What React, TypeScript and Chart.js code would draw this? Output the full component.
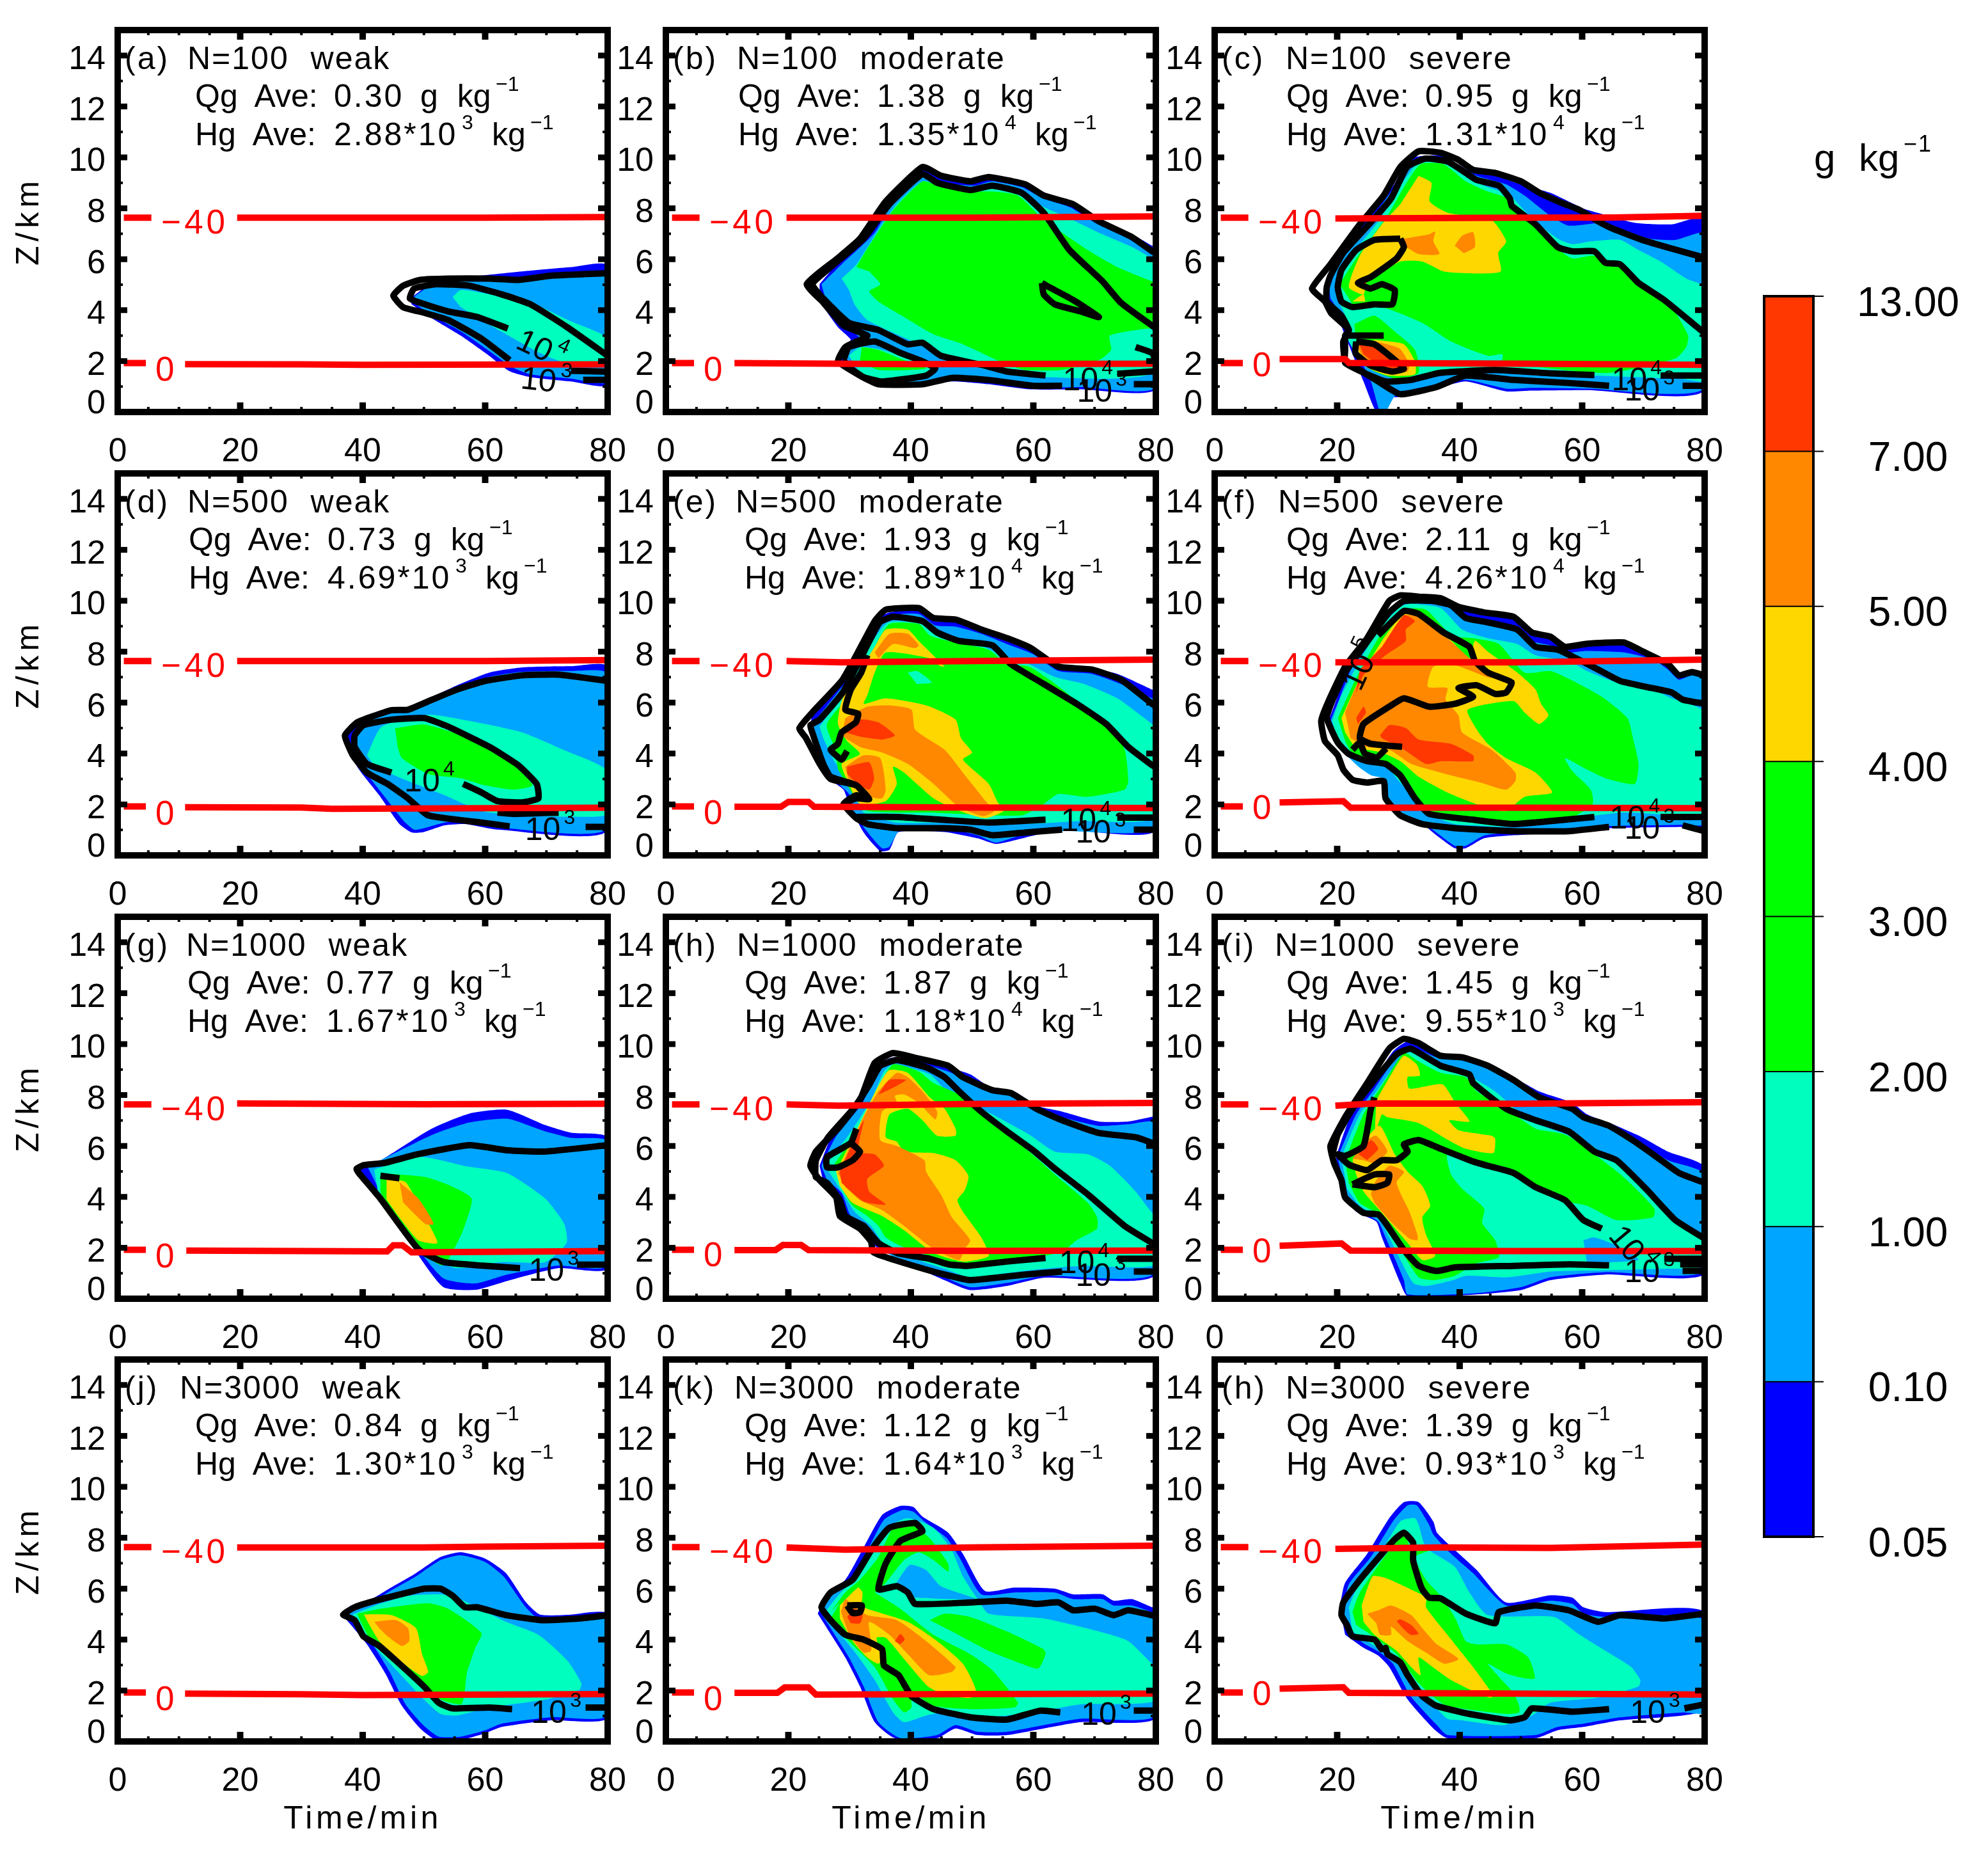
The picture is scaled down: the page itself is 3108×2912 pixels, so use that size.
import React, { useEffect, useRef } from "react";
import { Chart, registerables } from "chart.js";
Chart.register(...registerables);

const FONT = '"Liberation Sans"';
const fillColors = ["#0000FF", "#00A5FF", "#00FFBF", "#00FF00", "#FFD700", "#FF8800", "#FF3700"];
const barColors = ["#0000FF", "#00A5FF", "#00FFBF", "#00FF00", "#00FF00", "#FFD700", "#FF8800", "#FF3700"];
const barLevels = ["0.05", "0.10", "1.00", "2.00", "3.00", "4.00", "5.00", "7.00", "13.00"];
const xMajor = [0, 20, 40, 60, 80];
const xMinor = [5, 10, 15, 25, 30, 35, 45, 50, 55, 65, 70, 75];
const yMajor = [2, 4, 6, 8, 10, 12, 14];
const yMinor = [1, 3, 5, 7, 9, 11, 13];
const colLeft = [184, 1041, 1899];
const rowTop = [47, 740, 1433, 2125];

// (a)
const aBlue = [47.7,4.45,51.4,5.07,57.4,5.3,66,5.52,74,5.69,80,5.75,80,1.09,74,1.2,67.4,1.37,64,1.6,60.7,2.2,56,3,51.4,3.67,48,4.23];
const aLight = [48.6,4.57,51.4,5,57.4,5.19,66,5.3,74,5.3,80,5.35,80,1.2,74,1.31,67.4,1.48,64.4,1.76,61.4,2.27,56,3.17,51.4,3.78,48,4.35];
const aAqua = [54.7,4.51,56,4.79,60.7,4.62,67.4,4.29,74,3.56,80,2.9,80,1.9,74,1.87,69.4,2.27,64.7,2.88,59.4,3.61,56,4.12];
const aC1 = [64,2.04,59.4,2.88,54,3.61,50,3.9,46.6,4.12,45,4.57,46.6,4.96,49.4,5.19,54,5.24,60.7,5.24,65.4,5.19,70.7,5.35,80,5.45];
const aC2 = [76,1.26,80,1.26];
const aC3 = [63.7,3.28,58.7,3.73,54,3.95,49.4,4.29,47.7,4.46,48.4,4.85,52,5.02,57.4,4.96,62.7,4.62,67.4,4.23,73.4,3.33,80,2.21];
const aC4 = [74,1.62,80,1.58];
const aR40 = [19.5,7.63,60,7.63,80,7.66];
const aR0 = [11,1.88,30,1.87,40,1.85,80,1.87];

// (b)
const bBlue = [25.1,5.02,28.7,6.03,32.9,6.92,36.5,8.38,41.9,9.62,44.9,9.28,49.7,9.17,53.3,9.23,58.7,8.94,61.7,8.5,66.5,8.16,70.7,7.49,76.1,6.98,79.4,6.53,80,6.45,80,.92,67.7,.89,59.3,.89,52.7,1.09,46.7,1.2,42.5,1.03,34.7,.98,32.3,1.26,30.2,1.65,28.4,2.04,29,2.55,30.2,2.83,28.1,3.33,25.1,4.34];
const bLight = [25.4,5.02,28.7,5.8,34.1,7.04,37.1,8.27,41.9,9.28,45.5,9,50.3,8.89,53.3,9.06,58.1,8.83,61.7,8.38,65.9,8.05,70.1,7.43,75.5,6.81,79.4,6.25,80,6.2,80,.98,67.7,.98,59.3,.95,52.7,1.18,46.7,1.31,42.5,1.14,34.7,1.03,32.3,1.37,29.3,2.04,29.9,2.6,31.7,2.88,29.3,3.39,26.3,4.23];
const bAqua = [28.7,5.24,31.1,5.8,34.7,7.15,37.7,8.16,41.9,9.06,45.5,8.89,50.3,8.72,53.3,8.89,57.5,8.72,61.7,8.05,65.9,7.6,70.7,7.04,76.1,6.48,79.4,6.03,80,5.95,80,1.6,61.7,1.37,52.7,1.65,46.7,2.1,42.5,2.55,37.7,3.05,32.9,3.61,30.8,4.23,29.9,4.79];
const bAqua2 = [29.9,2.21,31.7,2.55,35.3,2.44,40.7,2.04,43.7,1.76,41.9,1.43,34.7,1.26,31.7,1.54];
const bGreen = [31.1,5.69,32.9,6.42,37.1,7.93,41.9,9.06,44.3,8.89,49.7,8.66,53.3,8.66,57.5,8.5,61.7,7.54,64.7,7.04,68.9,6.36,73.7,5.69,79.4,5.13,80,5.1,80,3.3,78.5,3.28,72.5,3,72.7,2.44,70.7,2.04,64.7,1.65,58.7,1.65,55.1,1.93,48.5,2.66,43.7,3.05,38.9,3.73,34.7,4.34,33.2,4.74,35,5.02,33.2,5.52];
const bGreen2 = [32,2.55,34.7,2.44,38.9,2.04,42.5,1.71,34.7,1.65,31.7,2.04];
const bC1 = [64.7,1.03,59.9,1.03,52.7,1.26,46.7,1.34,41.9,1.09,34.7,1.09,31.7,1.43,28.1,1.99,29.3,2.55,31.7,2.83,32.9,3,29,3.4,25.7,4.3,23,5.02,28,6.03,31.7,6.81,35.9,8.27,41.9,9.62,44.9,9.28,49.7,9.06,52.7,9.23,58.7,8.94,61.7,8.5,66.5,8.16,70.7,7.49,76.1,6.87,79.4,6.31,80,6.25];
const bC2 = [76.4,1.09,80,1.09];
const bC3 = [62,1.43,55.7,1.59,52.1,1.82,44.9,2.21,41.9,2.72,39.5,2.66,34.7,3.22,29.9,3.5,25.7,4.46,23.9,5.02,26.9,5.69,32.3,6.81,36.5,8.16,41.9,9.34,44.3,9,49.7,8.72,53.3,8.89,58.1,8.61,61.7,7.82,65.9,6.36,71.3,5.13,74.3,4.29,79.4,3.39,80,3.3];
const bC4 = [29,2.04,29.9,2.55,34.1,2.77,38.3,2.32,41.9,1.99,44,1.71,42.5,1.43,35.3,1.2,32.3,1.37,29.9,1.76,29,2.04];
const bC5 = [61.4,5.07,62.6,4.9,66.5,4.4,70.7,3.73,67.7,3.95,63.5,4.23,61.7,4.62,61.4,5.07];
const bC6 = [76.7,2.55,79.4,2.32,80,2];
const bC7 = [73.7,1.5,80,1.6];
const bR40 = [19.7,7.63,50,7.63,80,7.68];
const bR0 = [11.2,1.92,40,1.88,80,1.9];

// (c)
const cBlue = [18,5.02,20.5,6.14,25,7.6,29,8.83,32,9.95,36.9,10.07,39.8,9.73,42.2,9.39,45.8,9.28,50,8.94,54.8,8.61,60.2,7.99,62.6,7.82,68.6,7.43,74.6,7.37,80,7.6,80,.86,60.8,.86,51.8,.84,47.6,.81,41,1.2,36.2,.92,29.7,.58,28.5,.58,27.9,0,26.4,0,24.3,1.2,21.3,3,20,3.78,18.6,4.46];
const cLight = [18.6,5.02,21,6.14,25.6,7.6,29.7,8.94,32.6,9.9,36.9,9.95,39.8,9.67,42.8,9.28,47.6,8.94,50.6,8.5,54.8,7.71,57.8,7.32,63.5,7.43,66.8,7.15,71,6.81,75.2,6.76,80,7,80,.95,60.8,.92,51.8,.95,47.6,.92,41,1.26,36.2,1.03,29.7,.7,27.9,0,27,0,25.5,1.2,21.9,3,20.7,3.78,18.9,4.46];
const cAqua = [20,4.9,22,6.03,26.7,7.48,30.5,8.94,33.3,9.79,37.4,9.84,40.4,9.34,44,8.89,48.2,8.5,51.8,7.6,56,6.81,58.4,6.59,61.4,6.7,66.2,6.76,69.2,6.36,72.8,5.91,77,5.24,80,4.9,80,1.25,76.4,1.3,62,1.43,45.8,1.6,36.8,1.6,30.9,1.26,24.9,1.76,21.9,2.77,21.3,3.78,20,4.46];
const cGreen = [20.4,5.02,23.1,6.03,28.5,7.82,30.9,8.83,33.6,9.73,37.4,9.73,41,9.06,44.6,8.66,47.9,8.38,51.8,7.43,56,6.42,58.4,6.03,62,6.14,66.8,5.63,70.4,4.9,74.6,4.12,77.3,3,77,2.55,75.2,2.1,64.4,1.54,54.8,1.71,47,1.99,47,2.27,44.6,2.21,38.6,2.77,33.9,3.5,27.3,4.12,23,4.1,21.9,4.46];
const cGreen2 = [22.8,3.45,26.1,3.78,29.1,3.22,32.7,2.44,33.3,1.54,29.7,1.31,24.9,1.76,23.1,2.77];
const cGold = [33.3,9.28,35.4,9,35.1,8.27,38.1,7.82,45.2,7.54,47.6,6.7,46.3,6.25,46.7,5.52,42.8,5.44,37.4,5.52,33.9,5.91,30.3,5.91,27.3,5.47,24.9,5.13,24.3,4.62,21.9,4.9,23.7,6.14,27.3,7.37,30.3,8.16];
const cGold2 = [22.5,4.34,24.3,4.62,24.6,4.34];
const cGold3 = [26.1,2.83,30.9,2.66,32.7,1.99,32.7,1.48,28.5,1.43,24.9,1.76,23,2.55];
const cOrange = [30.9,6.81,35,6.98,36,7.09,35.7,6.7,36.7,6.2,33.3,6.2,30.9,6.53];
const cOrange2 = [39.2,6.53,40.4,6.92,42.2,7.06,42.5,6.48,40.7,6.23];
const cOrange3 = [26.1,2.78,30.2,2.49,31.8,1.87,31.5,1.59,28.5,1.54,24.9,1.93,23.1,2.66];
const cRed = [23.4,2.77,25.5,2.77,30.3,1.99,30,1.71,27.3,1.76,24.3,2.27];
const cC1 = [64.4,1.03,57.8,1.14,48.8,1.26,41,1.43,36.2,.98,30.3,.7,26.7,1.2,23.7,1.65,21.3,2.04,21,2.77,21.9,3.22,19,3.89,18,4.34,15.9,4.85,18.9,5.8,23.7,7.37,27.6,8.5,30.3,9.62,33.3,10.24,36.9,10.18,39.8,9.9,42.2,9.51,45.8,9.39,50,9.06,53,8.61,56.6,8.22,59.6,7.93,62.6,7.49,65,7.2,69.8,6.76,74.6,6.42,78.8,6.14,80,6.05];
const cC2 = [76.4,1.03,80,1.03];
const cC3 = [62,1.45,54.8,1.52,45.8,1.65,36.8,1.54,32,1.26,27.9,1.2,24.9,1.48,21.3,1.93,21.3,2.44,21.3,3,21.9,3.22,20.7,3.78,18.3,4.34,18.3,4.9,18.9,5.35,21,6.25,25.2,7.37,28.8,8.38,31.4,9.62,34.4,9.95,38,9.84,41,9.39,42.8,9.11,46.4,8.89,48.2,8.38,48.5,8.1,52.4,7.37,56,6.48,58.4,6.31,62,6.31,63.8,5.86,66.2,5.8,69.2,5.07,73.4,4.4,78.8,3.33,80,3.1];
const cC4 = [21.3,3,27.6,3];
const cC5 = [72.8,1.43,80,1.43];
const cC6 = [30.3,6.81,26.1,6.76,23.1,6.36,20.7,5.58,20.1,4.9,20.7,4.34,22.5,4.12,26,4.23,29,4.23,29.4,4.79,27.3,5.02,25.4,4.85,23.4,5.07,25.5,5.3,29.7,6.03,30.9,6.48,30.3,6.81];
const cC7 = [23.1,2.77,26.1,2.66,30.9,1.71,29,1.59,25.5,1.82,23,2.3,23.1,2.77];
const cR40 = [19.7,7.6,50,7.63,65,7.64,80,7.71];
const cR0a = [10.6,2.08,21.3,2.08,21.9,1.93,50,1.9,80,1.85];

// (d)
const dBlue = [37.1,4.71,39.4,5.22,44.7,5.72,47.4,5.78,51.4,6.23,55.4,6.68,60.7,7.18,66,7.38,74,7.43,80,7.41,80,.98,62,1.01,56.7,1.23,53.4,1.18,50,.92,48,.9,46,1.23,42.7,2.36,39.4,3.37,37.4,4.26];
const dLight = [38.1,4.43,39.4,5.11,44.7,5.61,47.4,5.63,51.4,6.12,55.4,6.57,60.7,7.01,66,7.21,74,7.24,80,7.13,80,1.07,62,1.1,56.7,1.35,53.4,1.29,50,1.07,48.4,1.01,46.7,1.35,43.4,2.36,40.1,3.37,38.4,3.93];
const dAqua = [40.7,3.93,43.1,5.05,50.7,5.52,57.4,5.28,66,4.83,72.7,4.15,80,3.31,80,1.63,74,1.52,66,1.57,59.4,1.74,53.4,2.36,47.4,2.92,42,3.48];
const dGreen = [45.3,4.99,50.1,5.14,56.1,4.71,62,4.04,65.4,3.37,67.7,2.75,64.7,2.58,60,2.75,56,3.03,50.7,3.2,46.4,3.82,45.7,4.26];
const dC1 = [64,1.14,59.4,1.29,50.7,1.57,47.4,2.24,44.1,2.8,40.7,3.25,38.4,3.93,37.1,4.71,39.1,5.22,42.1,5.5,44.7,5.7,47.4,5.72,51.4,6.12,55.4,6.51,60,6.85,66,7.07,72,7.1,80,6.85];
const dC2 = [76.4,1.12,80,1.12];
const dC3 = [44.7,3.25,40.7,3.59,38.7,4.26,38.7,4.71,40.1,5.11,44.7,5.33,50.1,5.39,54,5.05,60.7,4.26,65.4,3.54,68.4,2.81,68.7,2.24,66,2.08,62,2.13,59.4,2.47,56.4,2.81];
const dC4 = [62,1.68,64.7,1.63,72,1.68];
const dR40 = [19.5,7.63,60,7.63,80,7.67];
const dR0 = [11,1.89,30,1.88,35,1.83,80,1.87];

// (e)
const eBlue = [23.6,4.99,24,5.61,28.7,6.96,31.1,7.86,34,9.2,36.5,9.54,41.3,9.6,43.7,9.2,47.3,9.15,51.5,8.81,55.7,8.47,59.6,8.14,64.1,7.5,69.5,7.35,73.7,7.13,79.4,6.51,80,6.45,80,.98,64.7,1.01,58.7,.7,53.9,.45,50.9,.67,45.5,.92,38,.92,36.5,.22,35,.17,32.3,.9,29.9,2.02,29,2.58,26.9,2.97,25.1,3.7];
const eLight = [23.9,5.16,29.5,6.85,32,7.86,34.6,9.15,36.5,9.43,41.3,9.48,44,9.03,47.3,8.98,51.5,8.7,55.7,8.3,59.9,7.91,64.1,7.24,69.5,7.13,74.3,6.73,79.4,6.17,80,6.1,80,1.1,64.7,.95,58.7,.84,53.9,.5,50.9,.79,45.5,1.07,38.3,1.01,36.5,.34,35.3,.28,32.6,1.01,30.5,1.8,29.9,2.41,27.5,2.97,25.7,3.7];
const eAqua = [25.1,5.05,30.5,6.85,33.5,8.3,36.3,9.15,41.9,9.09,45.5,8.53,49.7,8.42,54.5,7.91,58.7,7.58,63.5,7.01,68.3,6.73,73.7,6.17,79.4,5.16,80,5.05,80,1.5,67.7,1.35,58.7,1.23,43.7,1.29,37.7,1.29,32.3,1.68,31.1,2.36,29.3,3.14,27.5,3.7,25.7,4.6];
const eGreen = [27.5,4.26,26.3,5.16,31.1,6.62,34.1,8.19,36.5,9.09,41.3,9.09,43.1,8.64,47.3,8.36,52.7,8.08,55.7,7.52,59.3,7.41,62.9,6.85,67.7,5.95,72.5,5.05,74.9,4.15,75.5,2.92,74.9,2.58,68.9,2.3,64.1,2.41,61.7,2.02,58.1,1.57,43.7,1.68,33,1.74,31.1,2.19,28.1,3.37];
const eSpot = [39.5,7.18,41,7.24,43.4,6.79,41,6.73];
const eGold = [34.1,8.19,35.9,8.87,39.5,8.87,41.3,8.42,45.5,7.41,44.6,7.46,43.1,7.74,35.9,7.97,34.1,7.18,32.9,6.29,32.3,5.95,35.9,6.17,42.5,5.89,47.3,5.33,48.2,4.6,50,4.04,48.5,3.76,52.7,2.81,54.2,2.08,55.1,1.74,52.1,1.46,47.3,1.8,43.7,2.24,38.9,3.25,37.1,3.48,37.7,2.81,35.9,2.13,31.7,2.02,29.9,2.81,28.7,3.59,31.7,3.98,29.6,4.49,28.1,5.16,28.7,6.06,30.5,6.85];
const eOrange = [34.1,7.97,36.5,8.7,39.5,8.7,41.3,8.25,40.7,8.14,37.1,8.3,34.7,7.74];
const eOrange2 = [29.3,5.39,32.9,5.84,36.5,5.89,40.1,5.72,40.7,4.94,45.5,4.15,48.5,3.25,52.4,2.08,53.6,1.74,51.8,1.54,47.8,1.91,43.7,2.81,39.5,3.59,35.3,4.04,31.7,4.26,28.7,4.71];
const eOrange3 = [29.3,3.48,32.3,3.93,35,3.82,35.9,2.58,35.3,2.24,33.5,2.3,29.9,2.92];
const eRed = [29.3,4.83,31.7,5.33,34.7,5.22,37.4,4.71,35.3,4.55,31.7,4.66];
const eRed2 = [29.6,3.48,33.2,3.65,34,3.03,33.2,2.58,31.1,2.86,29.6,3.2];
const eC1 = [64.7,1.01,58.7,.9,53.3,.79,49.7,1.01,45.5,1.07,37.7,1.07,32.9,1.23,31.1,1.46,29,2.02,31.1,2.36,32.9,2.24,31.1,2.75,26.9,3,25.1,3.6,22.9,4.6,21.8,4.99,23.9,5.61,28.7,6.85,31.1,7.86,34.1,9.2,35.9,9.65,41.3,9.71,43.7,9.32,47.3,9.26,51.5,8.87,55.7,8.53,59.6,8.14,64.1,7.41,69.5,7.3,74.3,6.9,79.4,5.95,80,5.85];
const eC2 = [62,1.4,52.7,1.29,44.9,1.4,37.7,1.51,31.1,1.51];
const eC3 = [29,2.02,31.1,2.24,33.2,2.21,31.1,2.75,26.9,3.09,25.7,3.59,23.9,4.83,23.6,5.11,25.1,5.33,28.9,6.4,31.8,7.74,34.9,9.15,37.1,9.37,41.9,9.2,44.3,8.75,47.9,8.42,53.3,8.25,56.3,7.52,61.7,6.73,67.1,5.95,71.9,5.16,75.5,4.26,79.4,3.54,80,3.45];
const eC4 = [32.9,7.86,31.9,7.18,30.2,6.51,29.3,5.72,31.4,5.56,31,5.22,28.7,4.83,28.1,4.38,26.9,4.15,28.7,3.76,29.6,4.1];
const eC5 = [73.7,1.48,80,1.48];
const eC6 = [76.4,1.01,80,1.01];
const eR40 = [19.7,7.63,28.7,7.58,50,7.63,80,7.69];
const eR0 = [11.2,1.91,18.8,1.91,20,2.1,23.3,2.1,24.2,1.91,50,1.88,80,1.86];

// (f)
const fBlue = [18.6,5.28,19.8,6.06,21.9,7.41,25.5,8.53,29.1,9.76,31.5,9.99,36.9,9.99,39.8,9.65,44,9.48,48.8,9.29,51.8,8.7,54.8,8.53,57.2,8.14,60.8,8.25,66.8,8.25,69.8,7.97,74,7.46,75.8,7.01,77.9,7.13,80,7.07,80,1.15,76.4,1.12,64.4,1.07,57.8,.9,48.8,.79,44,.67,41,.28,39.2,.28,36.2,.79,33.9,1.23,30.3,1.57,27.9,2.24,27.6,3.14,25.2,3.25,23.1,3.59,21.3,4.04,19.5,4.6];
const fLight = [18.9,5.28,20.4,6.17,22.5,7.41,26.1,8.53,29.7,9.71,32.1,9.93,38.7,9.76,40.4,9.32,44.6,9.15,48.8,9.03,51.8,8.42,54.8,8.25,57.2,7.97,60.8,8.03,66.8,7.97,71.6,7.69,74,7.3,75.8,6.9,77.9,7.07,80,7,80,1.25,76.4,1.2,64.4,1.15,57.8,1,48.8,.9,44,.78,41,.38,39.2,.38,36.2,.9,33.9,1.3,30.3,1.65,28,2.3,27.8,3,25.5,3.15,23.4,3.5,21.5,3.95,19.8,4.5];
const fAqua = [19.2,5.28,20.7,6.29,26.1,8.64,30.3,9.76,32.1,9.88,36.9,9.71,40.4,8.87,44.6,8.53,49.4,8.3,52.4,7.86,57.8,7.63,60.8,7.24,65.6,6.79,70.4,6.62,74.6,6.17,80,5.61,80,1.46,75.2,1.57,66.2,1.68,48.8,1.12,42.2,1.18,39.2,1.23,34.4,1.68,32.1,2.36,29.7,3.03,27.9,3.54,22.5,3.82,20,4.49];
const fGreen = [20.1,5.39,23.1,6.96,27.3,8.75,30.9,9.65,34.5,9.65,38.7,8.64,42.2,8.53,46.4,8.3,50.6,7.18,54.8,7.24,59,6.79,63.2,6.23,67.4,5.39,68.3,4.6,69.2,3.59,68.6,2.81,63.8,3.03,60.8,3.37,57.2,3.82,58.4,3.31,61.4,2.58,61.7,2.02,57.2,1.35,48.8,1.29,39.2,1.4,34.4,1.85,30.3,3.14,27.9,3.59,23,3.82,21.3,4.49];
const fGold = [20.7,5.39,23.7,6.96,27.3,8.42,30.9,9.54,32.6,9.54,36.9,8.87,41.6,7.74,42.5,8.42,44.6,8,49.4,7.18,52.4,6.51,53.3,5.95,54.5,5.5,53,5.16,50.6,5.61,48.8,6.06,41.3,5.72,42.8,4.94,44.6,4.38,47.6,3.82,52.4,3.25,55.1,2.47,50.6,2.3,47.6,1.74,44.6,1.85,38,2.47,33.3,3.09,30.3,3.7,27.3,4.04,23,4.26,21.3,4.83];
const fOrange = [21.3,5.61,23.1,6.62,27.9,8.3,30.9,9.43,33.3,9.37,38,8.53,41.6,7.74,45.2,6.96,38.6,7.52,35.7,7.41,34.8,6.62,38,6.57,37.7,6.12,39.8,5.5,40.4,4.83,45.2,4.15,49.1,3.25,49.1,2.92,47.6,2.58,43.4,2.86,38.6,3.14,32.1,3.59,28.5,4.15,24.9,4.26,22.2,4.6];
const fRed = [27.3,8.19,30.9,9.43,32.7,9.2,31.2,8.87,31.2,8.42,27.9,7.86,24.3,7.07,23.1,6.4,23.7,7.3];
const fRed2 = [23.1,5.39,24.3,5.84,24.7,5.61,23.4,5.16];
const fRed3 = [27,4.71,28.5,5.11,31.2,5,33.3,4.55,38.6,4.38,42.2,3.93,42.2,3.7,37,3.7,34.5,3.59,30.9,4.15,27.3,4.6];
const fC1 = [64.4,1.12,57.8,.95,48.8,.95,39.2,1.07,33.9,1.23,30.3,1.57,27.9,2.24,27.6,2.92,24.9,2.86,22.5,2.97,21,3.37,20.1,3.93,18,4.49,17.4,5.28,18.6,6.06,21.3,7.41,24.9,8.53,28.5,9.99,30.3,10.21,33.3,10.16,36.9,10.1,39.8,9.76,44,9.54,48.8,9.37,51.8,8.75,54.8,8.59,57.2,8.19,60.8,8.31,66.8,8.36,69.8,8.02,74,7.52,75.8,7.07,77.9,7.2,80,7.07];
const fC2 = [80,5.95,76.4,6.12,74.6,6.4,70.4,6.62,66.2,6.85,62.6,7.3,59,7.74,56,8.08,52.4,8.19,49.4,8.87,44.6,9.15,41,9.32,38.6,9.82,35.7,9.99,30.9,9.99,28.5,9.54,24.3,8.19,21.3,7.18,19,5.95,18.3,5.39,20.1,4.43,21.9,3.98,24.9,3.7,27.9,3.59,30.3,3.14,32.7,2.24,35,1.63,42.2,1.4,48.8,1.23,57.2,1.4,62,1.51];
const fC3 = [26.7,8.64,30.9,9.6,33.3,9.48,37.4,8.75,41.6,8.19,42.5,7.63,44.6,7.18,48.5,6.79,47.6,6.4,45.8,6.34,42.8,6.68,39.8,6.57,42.2,6.23,39.2,5.95,35,5.84,30.9,6.17,28.5,5.84,24.3,5.16,23.7,4.6,25.5,4.38,30.6,4.26];
const fC4 = [22.5,4.15,23.7,4.43,24.5,4,26.5,3.85,28,4.2];
const fC5 = [76.4,1.18,80,.95];
const fC6 = [72.8,1.51,80,1.51];
const fR40 = [19.7,7.58,50,7.58,80,7.69];
const fR0 = [10.6,2.08,21,2.13,22.2,1.87,50,1.87,80,1.85];

// (g)
const gBlue = [39.2,5.08,42.9,5.43,51.2,6.67,57.4,7.27,63.6,7.42,69.8,6.82,74,6.52,80,6.32,80,1.2,71.9,1.2,63.6,.7,58.4,.35,53.2,.45,49.1,1.7,42.9,3.93,39.8,4.93];
const gLight = [40.8,5.18,51.2,6.42,57.4,6.92,63.6,7.07,69.8,6.57,74,6.32,80,6.17,80,1.3,71.9,1.3,63.6,.95,58.4,.6,53.2,.8,49.1,1.94,42.9,4.18];
const gAqua = [41.9,5.08,49.1,5.58,57.4,5.18,63.6,4.93,69.8,3.93,72.9,2.94,73.3,2.19,69.8,1.44,62.6,1.44,55.3,1.2,51.2,1.69,46,2.94,42.5,4.18];
const gGreen = [42.9,4.93,50.2,4.78,54.4,4.43,57.8,3.93,56.4,2.69,54.9,1.94,53.2,1.3,50.2,1.69,46,2.94,42.9,4.18];
const gGold = [43.9,4.68,47,4.58,50.2,3.19,52.2,2.19,49.1,2.29,46,3.19,43.9,3.9];
const gOrange = [46,4.58,49.1,3.93,51.6,2.94,50.2,2.94,46.6,3.78];
const gC1 = [65.7,1.2,59.5,1.3,53.2,1.44,49.1,1.94,42.9,3.93,39.4,4.93,39,5.1,40.2,5.25,43.5,5.33,49.1,5.68,57.4,6.03,63.6,5.83,69.8,5.78,80,6.03];
const gC2 = [75,1.34,80,1.34];
const gC3 = [42.9,4.83,46,4.73];
const gR40 = [19.5,7.67,50,7.64,80,7.66];
const gR0 = [11.2,1.89,44,1.86,45,2.1,46.5,2.1,48,1.82,80,1.87];

// (h)
const hBlue = [25.1,5.22,27,6.34,31.5,7.69,34.2,9.15,37.1,9.48,41.3,9.37,46.1,9.09,49.7,8.81,53.3,8.25,56.9,8.14,60.5,7.58,64.7,7.35,70.7,6.96,75.5,6.96,79.4,7.15,80,7.15,80,.95,61.7,.82,55.7,.5,49.7,.34,45.5,.73,41.9,1.12,34.1,2.08,32.3,2.86,29.9,3.14,28.4,4.1,25.7,4.6];
const hLight = [25.4,5.22,27.7,6.34,32.1,7.69,34.8,9.03,37.1,9.37,41.3,9.26,46.1,8.92,49.7,8.53,53.3,8.14,56.9,8.02,60.5,7.46,64.7,7.13,70.7,6.79,75.5,6.85,80,6.9,80,1.03,61.7,.9,55.7,.62,49.7,.45,45.5,.84,41.9,1.23,37.7,1.57,34.7,2.08,32.9,2.86,30.2,3.25,28.7,4.15,26.3,4.66];
const hAqua = [26,5.22,29.9,6.45,33.5,7.8,35.6,8.92,37.1,9.2,43.1,8.81,45.5,8.25,49.7,7.69,53.3,7.24,59.3,6.45,63.5,5.78,68.9,5.67,72.5,5.22,76.7,4.21,79.4,3.37,80,3.3,80,1.35,67.7,1.29,61.7,1.18,55.7,1.01,49.7,.84,45.5,1.18,41.9,1.46,37.7,1.8,35.3,2.24,33.5,2.86,30.8,3.42,29.3,3.98,27.5,4.66];
const hGreen = [27.5,5.27,31.1,6.57,34.1,8.02,37.1,9.2,41.3,8.92,43.7,8.47,47.9,8.02,52.1,7.13,59.3,5.78,63.5,4.88,68.9,3.76,70.4,3.2,70.4,2.75,67.1,2.3,64.7,1.85,55.7,1.4,48.5,1.18,43.1,1.68,38.3,2.08,35.9,2.41,34.7,2.86,32.9,3.25,30.5,3.65,28.7,4.32];
const hGold = [27.8,4.99,31.7,6.9,34.7,8.36,36.5,8.98,39.5,8.87,43.1,7.91,45.5,7.46,47.3,6.68,47.3,6.4,44.3,6.4,41.9,7.01,39.5,7.46,36.5,7.24,35.9,6.34,37.7,6.17,38.9,5.78,43.7,5.72,47.3,5.44,49.4,4.83,48.8,4.26,47.6,3.87,48.5,3.42,51.5,2.41,52.7,1.68,48.5,1.46,43.7,1.8,38.9,2.69,35.3,3.25,30.5,3.76,28.4,4.43];
const hOrange = [28.1,4.94,32.3,7.13,34.7,8.14,37.7,8.87,39.5,8.7,41.9,8.14,44.3,7.35,44,7.04,41.3,7.69,38.9,8.02,37.4,7.97,37.7,7.69,35.3,7.35,35,6.23,37.7,6,42.2,5.44,42.5,4.99,44.9,4.1,46.7,3.2,49.7,2.3,48.8,1.96,47.9,1.52,43.7,1.96,38.9,2.86,35.3,3.48,31.7,3.87,29.3,4.38];
const hRed = [34.7,8.02,36.5,8.59,39.2,8.59,37.7,8.36,35.3,8.08];
const hRed2 = [28.4,4.99,32.3,7.01,31.4,5.78,34.1,5.67,35.6,5.22,32.9,4.71,33.2,4.21,35.9,3.7,32.3,3.82,28.7,4.55];
const hC1 = [64.7,1.07,58.7,.95,49.7,.73,45.5,.95,41.3,1.23,35.3,1.68,33.8,1.85,33.5,2.24,31.7,2.75,28.4,3.25,27.8,3.98,25.1,4.66,23.6,5.22,24.5,5.78,28.1,6.68,31.7,7.8,34.1,9.26,37.1,9.65,41.3,9.43,46.1,9.15,48.5,8.7,53.3,8.19,56.3,8.08,60.5,7.46,64.7,7.01,70.7,6.51,76.7,6.34,79.4,6.12,80,6.05];
const hC2 = [62,1.6,55.7,1.46,49.1,1.29,46.1,1.35,43.1,1.57,37.7,1.8,34.7,2.19,32.3,2.86,29.3,3.25,28.4,3.87,26.3,4.55,24.5,4.77,24.5,5.44,26.5,6.34,30.6,7.46,33.1,8.36,35,9.15,37.7,9.37,42.5,9.09,45.5,8.7,47.9,8.14,51.5,7.35,55.7,6.57,59.9,5.84,63.5,5.11,68.9,4.1,74.9,2.86,79.4,2.19,80,2.1];
const hC3 = [31.1,6.68,30.2,6.12,26.3,5.56,26.3,5.16,28.1,5.16,30.5,5.44,31.7,5.78,30.2,6.12];
const hC4 = [73.7,1.57,80,1.57];
const hC5 = [76.4,1.07,80,1.07];
const hR40 = [19.7,7.63,28.1,7.58,50,7.65,80,7.69];
const hR0 = [11.2,1.91,17.9,1.91,19.1,2.11,22.1,2.11,23.3,1.91,50,1.88,80,1.89];

// (i)
const iBlue = [19.8,5.56,21.9,7.01,25.5,8.36,29.1,9.71,31.5,10.1,35.7,9.82,36.9,9.6,40.4,9.48,44.6,9.2,48.8,8.7,53,8.14,58.4,7.69,60.8,7.24,65,6.85,69.8,6.34,74,5.78,80,5.16,80,.98,63.8,.95,54.8,.73,50,.34,42.8,.17,31.5,.11,30.3,.62,27.3,2.41,26.4,3.03,23.1,3.42,21.3,4.1,20.4,4.88];
const iLight = [20.1,5.56,23.1,7.24,26.1,8.25,30.3,9.71,31.8,9.93,36.2,9.48,40.4,9.37,44.6,9.03,48.8,8.47,53,7.8,58.4,7.35,60.8,7.01,65,6.62,69.8,6.06,74,5.44,80,4.88,80,1.08,63.8,1.04,54.8,.84,50,.45,42.8,.22,31.5,.17,30.9,.73,27.9,2.41,26.7,3.03,23.7,3.48,21.6,4.1,20.7,4.88];
const iAqua = [20.7,5.56,23.7,7.24,26.7,8.25,30.9,9.6,33.3,9.71,36.9,9.15,41,8.81,45.8,8.14,51.2,7.01,56,6.57,60.8,6.12,66.2,5.22,70.4,4.21,75.2,3.09,80,2.41,80,1.29,73.7,1.18,63.8,1.12,54.8,1.07,47.6,.84,41,.9,38.9,.73,34.5,.5,32.4,.62,28.5,2.41,26.7,3.2,23.7,3.65,21.6,4.32];
const iPatch = [60.2,2.3,62,2.41,66.8,1.96,69.2,1.52,60.8,1.4];
const iGreen = [21.3,5.44,24.3,7.24,27.9,8.59,30.9,9.65,33.3,9.32,36.9,8.87,41,8.7,42.8,8.14,47.6,7.46,52.4,6.68,57.2,6.45,62,5.67,66.8,4.77,71.8,3.54,71.6,3.2,65.6,3.09,60.8,3.65,56.6,3.87,51.8,4.55,47.6,5.16,42.8,5.39,38,5.67,38.6,4.88,40.4,4.32,44,3.54,43.7,2.97,45.8,2.3,46.4,1.63,42.8,1.4,39.2,.9,35.7,.73,33.3,.84,29.7,2.19,26.7,3.31,23.7,3.76,21.9,4.55];
const iGold = [26.4,7.8,29.1,8.92,30.9,9.54,33,9.2,33.5,8.76,31.5,8.7,31.8,8.25,37.2,8.42,39.3,7.69,41.6,6.96,38.3,7.01,39.8,6.62,45.2,6.4,45.8,6.29,45.5,5.72,41,5.89,38.6,6.17,33.3,6.9,28.2,7.13,27.3,7.24,26.1,6.34];
const iGold2 = [22.5,5.44,24.9,6.34,27,6.79,29.4,5.67,31.5,4.99,33.9,4.43,35.2,3.65,33.9,3.2,34.5,2.52,36,1.68,33.9,1.52,31.5,2.19,26.7,3.54,24.3,4.21,23.1,4.88];
const iOrange = [25.5,4.1,26.1,4.55,28.5,5.22,30.9,4.99,29.7,4.55,31.8,3.42,33.1,2.52,33.1,2.3,31.8,2.36,28.5,3.09,26.1,3.76];
const iOrange2 = [22.5,5.5,24.9,6.23,26.4,6.4,28.2,5.78,26.1,5.33,24.3,5.44];
const iRed = [23.5,5.67,25.5,6.23,26.7,5.89,24.9,5.44];
const iC1 = [64.4,1.31,57.8,1.35,48.8,1.29,39.2,1.23,36.2,1.09,33.3,1.29,30.9,1.91,27.9,2.97,26.7,3.31,24.3,3.37,21.3,3.98,20.7,4.66,19.5,5.33,18.9,6,21.3,7.13,24.9,8.47,28.5,9.82,30.9,10.21,33.3,10.04,36.9,9.54,40.4,9.48,44.6,9.15,48.8,8.59,53,7.91,58.4,7.46,60.2,7.13,64.4,6.79,68.6,6.17,72.2,5.56,75.8,4.94,80,4.55];
const iC2 = [80,2.36,75.2,3.09,70.4,4.32,65.6,5.44,62,5.78,57.8,6.57,52.4,7.01,47.6,7.46,42.2,8.47,41.6,8.81,36.9,9.15,32,9.82,29.7,9.6,26.1,8.59,22.5,7.46,20.1,6.45,19.2,5.67];
const iC3 = [63.2,2.75,60.2,3.09,57.2,3.87,52.4,4.38,48.8,4.94,44.6,5.22,42.2,5.39,36.9,5.89,33.3,6.23,30.9,6.06,31.5,5.78,29.7,5.44,27.3,5.44,24.9,5.05,21.9,5.27,20.1,5.67,21.3,5.61,24.3,6,25.5,7.46,26.1,7.91];
const iC4 = [22.5,4.49,26.1,4.88,28.5,4.88,28.2,4.55,26.1,4.38,22.5,4.49];
const iC5 = [73.4,1.57,80,1.57];
const iC6 = [76,1.35,80,1.35];
const iC7 = [76.4,1.09,80,1.09];
const iR40 = [19.7,7.58,26,7.67,50,7.66,80,7.72];
const iR0 = [10.6,2.08,20.7,2.17,22.2,1.89,50,1.87,80,1.87];

// (j)
const jBlue = [36.6,4.98,38.1,5.34,40.7,5.49,44.1,5.97,48.7,6.61,52.7,7.24,56,7.43,60,7.18,63.4,6.61,66.7,5.46,69,4.98,74,4.98,77.4,5.08,80,5.02,80,.93,70.7,.83,62.7,.57,60,.32,56,.06,52,.06,49.4,.51,46.4,1.4,43.7,2.67,40.7,3.81,38.1,4.57];
const jLight = [37.6,4.98,38.7,5.27,40.7,5.36,44.1,5.85,48.7,6.48,52.7,7.12,56,7.31,60,7.05,63,6.48,66.4,5.34,68.7,4.83,74,4.83,80,4.76,80,1.02,70.7,.95,62.7,.7,60,.44,56,.19,52.4,.19,49.9,.64,47,1.46,44.4,2.73,41.4,3.88,38.7,4.64];
const jAqua = [38.4,4.99,42.1,5.34,47.4,5.72,52.7,5.78,55.4,5.65,63.4,4.7,68.7,4.19,73.4,3.18,75.7,2.29,75.4,2.03,70,1.65,62.7,1.4,58.7,1.21,55.4,1.02,52.7,1.08,50,1.65,46,2.67,42.1,3.68,39.4,4.45];
const jGreen = [39.1,5.02,42.8,5.21,50.7,5.43,54,5.21,59.4,4.26,58.4,3.68,57,2.67,56.7,2.03,56.1,1.46,52.7,1.65,49.4,2.29,44.7,3.3,41.1,4.07,39.8,4.64];
const jGold = [40.2,4.99,44.7,4.96,48.7,4.45,49.7,3.43,50.7,2.73,49.7,2.57,46.7,3.05,42.7,3.94,41.1,4.57];
const jOrange = [41.9,4.7,45.4,4.77,47.4,4.45,47.6,3.94,46.4,3.75,44.1,4.13,42.7,4.45];
const jC1 = [64.4,1.27,60.7,1.33,54.7,1.3,52.4,1.52,50,2.16,46,3.05,42.7,3.75,40.1,4.13,38.7,4.76,36.8,4.98,38.7,5.27,42.1,5.53,47.4,5.85,50,6,52.7,6,54.7,5.72,56.7,5.27,58.7,5.27,63.4,4.96,69.4,4.76,75.4,4.83,80,4.96];
const jC2 = [76.4,1.33,80,1.33];
const jR40 = [19.5,7.62,50,7.62,60,7.65,80,7.69];
const jR0 = [11,1.88,30,1.85,40,1.82,60,1.84,80,1.86];

// (k)
const kBlue = [24.8,5.02,26.3,5.78,29.3,6.35,32.3,7.62,35.3,8.89,38.3,9.25,40.4,9.21,41.9,8.83,46.1,8.2,48.5,7.37,52.1,5.91,56.9,6.04,63.5,6,66.5,5.78,71.3,5.78,73.1,5.53,76.1,5.59,79.4,5.27,80,5.25,80,.93,67.7,.76,61.7,.51,55.7,.25,50.9,.25,47.3,.51,44.3,.13,37.4,.13,34.1,.76,31.7,2.16,29.3,3.3,26.3,4.45];
const kLight = [25.4,5.02,26.9,5.72,29.9,6.29,32.9,7.5,35.6,8.7,38.6,9.09,40.4,9.02,42.2,8.64,45.8,8,47.9,7.24,51.5,5.78,56.9,5.85,63.5,5.85,66.5,5.59,71.3,5.59,73.1,5.34,76.1,5.34,79.4,5.08,80,5.05,80,1.02,67.7,.89,61.7,.64,55.7,.38,50.9,.38,47.3,.64,44.3,.25,38.3,.13,34.7,.76,32.3,2.16,29.9,3.3,26.9,4.45];
const kAqua = [26,5.08,28.1,5.72,31.1,6.48,34.1,7.62,36.5,8.45,39.5,8.77,43.7,8.39,46.7,7.5,48.5,6.48,50.9,5.59,52.7,5.02,61.7,4.83,70.7,4.32,75.5,3.94,79.4,3.05,80,3,80,1.6,67.7,1.46,61.7,1.21,55.7,1.02,49.7,.95,45.5,1.14,42.5,1.02,38.9,.76,37.1,1.14,34.1,2.41,31.1,3.43,28.1,4.32];
const kHole = [37.3,6.1,39.8,6.93,42.5,6.73,44.9,6.1,50.6,5.59,40.7,5.65];
const kGreen = [26.9,5.08,29.3,5.85,31.7,6.35,34.7,7.24,37.1,8.39,39.5,8.64,43,8,46.1,6.98,46.1,6.67,43.7,7.12,41.3,7.43,38.9,7.12,35.9,6.23,34.1,5.85,32.3,6.1,28.4,5.46];
const kGreen2 = [28.4,5.46,32.3,6.1,34.1,5.85,38.3,5.21,43.7,4.19,49.7,3.43,53.3,2.8,57.5,1.52,56.9,1.33,49.7,1.27,43.7,1.4,40.1,1.91,40.1,1.33,38.9,1.14,37.1,1.65,34.1,2.92,29.9,3.94,26.9,4.83];
const kGreen3 = [43.1,4.76,45.5,5.02,49.7,4.89,55.7,4.32,61.7,3.62,62,3.43,60.8,2.86,58.1,3.05,52.7,3.56,46.7,4.32];
const kGold = [28.4,5.34,31.4,6.04,32.1,5.85,32,5.34,32.9,5.21,39.5,4.7,44.3,3.94,48.5,3.05,50.6,2.03,49.7,1.71,45.5,1.84,42.8,2.16,39.1,3.18,35.9,4.07,34.4,4.07,35.3,3.3,34.7,3.05,32.9,3.3,30.5,3.94,28.4,4.83];
const kOrange = [28.6,5.08,29.3,5.59,30.5,5.34,32.9,4.96,37.7,4.76,42.5,3.94,47.3,2.92,46.7,2.73,43,2.6,39.5,3.43,36.5,4.19,33.2,4.7,33.5,3.94,33.5,3.56,32.3,3.49,29.9,4.19];
const kRed = [29.6,4.89,30.8,5.21,32.1,4.96,31.7,4.64,30.2,4.64];
const kRed2 = [37.4,3.94,38.3,4.22,39,4,38.2,3.81];
const kC1 = [64.4,1.14,61.1,1.21,55.7,.86,49.7,.95,43.7,1.27,40.1,1.78,38,2.6,35.6,2.99,35.3,3.62,32.3,4,29.3,4.19,26.9,4.76,25.4,5.27,26.9,5.85,30.5,6.35,33.5,7.5,36.5,8.39,40.7,8.58,41.9,8.26,38.3,7.88,35.9,6.99,34.7,5.97,37.7,6.1,39.5,5.85,40.7,5.4,49.7,5.46,55.7,5.53,60.5,5.4,64.1,5.46,66.5,5.15,70.1,5.21,73.1,4.96,75.5,5.15,80,4.92];
const kC2 = [76.4,1.21,80,1.21];
const kC3 = [29.6,5.34,32,5.34,31.7,5.08,30.5,5.04,29.6,5.34];
const kR40 = [19.7,7.62,29.3,7.53,49.7,7.62,80,7.69];
const kR0 = [11.2,1.91,18.2,1.91,19.4,2.12,23.3,2.12,24.5,1.84,50,1.86,80,1.88];

// (h) N=3000 severe
const lBlue = [20.4,5.27,21.3,6.23,24.9,7.37,28.5,8.77,30.9,9.4,33.3,9.4,35.7,8.64,36.3,8.2,39.3,7.5,42.8,6.73,47.6,5.46,54.8,5.74,58.4,5.65,60.2,5.27,63.8,5.08,80,5.08,80,1.27,76.4,1.02,66.2,.83,60.2,.57,56,.44,52.4,.13,38,.13,35.7,.51,31.5,1.65,28.5,2.92,26.7,3.37,24.3,3.68,21.3,4.19];
const lLight = [21,5.27,21.9,6.17,25.5,7.24,29.1,8.64,31.5,9.27,33,9.27,35,8.51,35.7,8.13,38.6,7.37,42.2,6.61,47.6,5.34,54.8,5.53,58.4,5.4,60.2,5.02,63.8,4.89,80,4.76,80,1.14,76.4,1.14,66.2,.95,60.2,.7,56,.57,52.4,.25,38,.25,36.3,.64,32,1.78,29.1,3.05,27,3.49,24.6,3.81,21.6,4.32];
const lAqua = [21.9,5.27,23.1,5.97,26.7,7.24,30.3,8.64,32.7,8.77,33.3,8.51,34.5,7.62,39.2,6.86,41.6,5.85,44.6,4.96,55.4,4.89,59.6,4.19,63.8,3.56,68,2.92,69.5,2.41,69.2,2.16,62.6,1.72,54.8,1.52,51.8,1.02,47,.64,40.4,.83,38,.89,34.5,1.78,30.3,3.05,27.3,3.56,24.9,3.94,22.5,4.32];
const lGreen = [22.5,5.08,23.7,5.85,28.5,7.5,30.9,8.07,32.4,7.5,35,7.5,32.7,7.24,34.5,6.35,36.9,5.72,39.3,4.83,41,3.94,42.8,3.81,47.6,3.81,51.2,3.3,52.3,2.48,50.6,2.48,47.6,2.67,44.6,3.05,46.4,2.54,48.8,1.91,49.7,1.4,49.7,1.14,47.6,1.08,42.8,1.21,37.4,1.46,33.3,2.29,29.7,3.43,25.5,4.19,23.1,4.57];
const lGold = [24,5.34,25.8,6.48,27.9,6.42,30.9,6.1,34.5,5.65,34.5,5.27,38,4.19,42.2,2.92,45.2,1.91,45.2,1.72,43.4,1.84,38.6,2.41,35.6,2.92,33.3,3.3,33.6,2.6,32.1,2.92,29.7,3.56,26.1,4.19,24.3,4.7];
const lOrange = [24.9,5.02,26.7,5.15,28.8,5.34,32.1,4.96,33.9,4.45,36.3,3.81,39.8,3.24,37.5,3.05,34.5,3.49,31.5,3.94,28.8,4.51,28.8,4.19,27,4.19,26.4,4.64];
const lRed = [29.7,4.73,30.3,4.8,32.1,4.57,33.3,4.22,32,4.19,30.7,4.45];
const lC1 = [64.4,1.27,58.4,1.17,51.8,1.3,50.6,.95,48.2,.83,41.6,1.08,36.2,1.4,33.9,1.78,31.5,2.6,30.3,3.11,28.2,3.43,27.9,3.68,27.3,3.62,26.1,4,22.5,4.13,21.6,4.57,20.7,4.96,21,5.46,23.7,6.35,27.3,7.37,29.4,7.94,30.9,8.2,32.4,7.81,32.4,7.12,33.3,6.35,33.9,5.97,35,5.65,36.9,5.62,41,5.02,45.8,4.64,46.4,5.08,52.4,5.34,57.8,5.15,62.6,4.7,66.2,4.96,73.4,4.83,80,5.02];
const lC2 = [76.7,1.3,80,1.46];
const lR40 = [19.7,7.56,36.8,7.62,54.8,7.6,80,7.73];
const lR0 = [10.6,2.07,21,2.13,21.9,1.91,50,1.88,80,1.84];

const r40Stub = [1,7.63,5.5,7.63];
const r0Stub = [1,1.92,4.6,1.92];

type Lab = [number, number, string, number];
const panels: any[] = [
  { tag: "(a)", title: "N=100 weak", qg: "0.30", hg: "2.88", ex: "3", dt: 109, ds: 121,
    fills: [[0,aBlue],[1,aLight],[2,aAqua]], lines: [aC1,aC2,aC3,aC4], reds: [aR40,aR0], zz: 1.7,
    labs: [[68,2.55,"4",25],[68.7,1.2,"3",6]] as Lab[] },
  { tag: "(b)", title: "N=100 moderate", qg: "1.38", hg: "1.35", ex: "4", dt: 111, ds: 113,
    fills: [[0,bBlue],[1,bLight],[2,bAqua],[2,bAqua2],[3,bGreen],[3,bGreen2]], lines: [bC1,bC2,bC3,bC4,bC5,bC6,bC7], reds: [bR40,bR0], zz: 1.7,
    labs: [[67.7,1.2,"4",0],[70,.75,"3",0]] as Lab[] },
  { tag: "(c)", title: "N=100 severe", qg: "0.95", hg: "1.31", ex: "4", dt: 111, ds: 112,
    fills: [[0,cBlue],[1,cLight],[2,cAqua],[3,cGreen],[3,cGreen2],[4,cGold],[4,cGold2],[4,cGold3],[5,cOrange],[5,cOrange2],[5,cOrange3],[6,cRed]], lines: [cC1,cC2,cC3,cC4,cC5,cC6,cC7], reds: [cR40,cR0a], zz: 1.87,
    labs: [[67.7,1.2,"4",0],[69.8,.8,"3",0]] as Lab[] },
  { tag: "(d)", title: "N=500 weak", qg: "0.73", hg: "4.69", ex: "3", dt: 109, ds: 111,
    fills: [[0,dBlue],[1,dLight],[2,dAqua],[3,dGreen]], lines: [dC1,dC2,dC3,dC4], reds: [dR40,dR0], zz: 1.68,
    labs: [[49.7,2.86,"4",0],[69.4,.95,"3",0]] as Lab[] },
  { tag: "(e)", title: "N=500 moderate", qg: "1.93", hg: "1.89", ex: "4", dt: 109, ds: 123,
    fills: [[0,eBlue],[1,eLight],[2,eAqua],[3,eGreen],[2,eSpot],[4,eGold],[5,eOrange],[5,eOrange2],[5,eOrange3],[6,eRed],[6,eRed2]], lines: [eC1,eC2,eC3,eC4,eC5,eC6], reds: [eR40,eR0], zz: 1.7,
    labs: [[67.4,1.29,"4",0],[69.8,.84,"3",0]] as Lab[] },
  { tag: "(f)", title: "N=500 severe", qg: "2.11", hg: "4.26", ex: "4", dt: 99, ds: 112,
    fills: [[0,fBlue],[1,fLight],[2,fAqua],[3,fGreen],[4,fGold],[5,fOrange],[6,fRed],[6,fRed2],[6,fRed3]], lines: [fC1,fC2,fC3,fC4,fC5,fC6], reds: [fR40,fR0], zz: 1.89,
    labs: [[67.4,1.4,"4",0],[69.8,1.01,"3",0],[23.7,7.18,"5",-65]] as Lab[] },
  { tag: "(g)", title: "N=1000 weak", qg: "0.77", hg: "1.67", ex: "3", dt: 107, ds: 109,
    fills: [[0,gBlue],[1,gLight],[2,gAqua],[3,gGreen],[4,gGold],[5,gOrange]], lines: [gC1,gC2,gC3], reds: [gR40,gR0], zz: 1.7,
    labs: [[70,1.05,"3",0]] as Lab[] },
  { tag: "(h)", title: "N=1000 moderate", qg: "1.87", hg: "1.18", ex: "4", dt: 111, ds: 123,
    fills: [[0,hBlue],[1,hLight],[2,hAqua],[3,hGreen],[4,hGold],[5,hOrange],[6,hRed],[6,hRed2]], lines: [hC1,hC2,hC3,hC4,hC5], reds: [hR40,hR0], zz: 1.74,
    labs: [[67.1,1.35,"4",0],[69.8,.84,"3",0]] as Lab[] },
  { tag: "(i)", title: "N=1000 severe", qg: "1.45", hg: "9.55", ex: "3", dt: 94, ds: 112,
    fills: [[0,iBlue],[1,iLight],[2,iAqua],[1,iPatch],[3,iGreen],[4,iGold],[4,iGold2],[5,iOrange],[5,iOrange2],[6,iRed]], lines: [iC1,iC2,iC3,iC4,iC5,iC6,iC7], reds: [iR40,iR0], zz: 1.89,
    labs: [[67.1,2.13,"4",50],[69.8,1.01,"3",0]] as Lab[] },
  { tag: "(j)", title: "N=3000 weak", qg: "0.84", hg: "1.30", ex: "3", dt: 97, ds: 121,
    fills: [[0,jBlue],[1,jLight],[2,jAqua],[3,jGreen],[4,jGold],[5,jOrange]], lines: [jC1,jC2], reds: [jR40,jR0], zz: 1.7,
    labs: [[70.4,1.08,"3",0]] as Lab[] },
  { tag: "(k)", title: "N=3000 moderate", qg: "1.12", hg: "1.64", ex: "3", dt: 107, ds: 123,
    fills: [[0,kBlue],[1,kLight],[2,kAqua],[1,kHole],[3,kGreen],[3,kGreen2],[3,kGreen3],[4,kGold],[5,kOrange],[6,kRed],[6,kRed2]], lines: [kC1,kC2,kC3], reds: [kR40,kR0], zz: 1.7,
    labs: [[70.7,1,"3",0]] as Lab[] },
  { tag: "(h)", title: "N=3000 severe", qg: "1.39", hg: "0.93", ex: "3", dt: 111, ds: 112,
    fills: [[0,lBlue],[1,lLight],[2,lAqua],[3,lGreen],[4,lGold],[5,lOrange],[6,lRed]], lines: [lC1,lC2], reds: [lR40,lR0], zz: 1.9,
    labs: [[70.7,1.08,"3",0]] as Lab[] },
];

const pts = (f: number[]) => { const o = []; for (let i = 0; i < f.length; i += 2) o.push({ x: f[i], y: f[i + 1] }); return o; };

function txt(ctx: any, s: string, x: number, y: number, o: any = {}) {
  ctx.save();
  ctx.font = `${o.size || 50}px ${FONT}`;
  ctx.fillStyle = o.color || "#000";
  ctx.textAlign = o.align || "left";
  ctx.textBaseline = o.base || "alphabetic";
  ctx.letterSpacing = `${o.ls || 0}px`;
  ctx.wordSpacing = `${o.ws || 0}px`;
  if (o.rot) { ctx.translate(x, y); ctx.rotate((o.rot * Math.PI) / 180); ctx.fillText(s, 0, 0); }
  else ctx.fillText(s, x, y);
  ctx.restore();
}

const W = 766, H = 597, PADL = 180, PADT = 20, PADR = 40, PADB = 160;

function Panel({ p, col, row }: any) {
  const ref = useRef<HTMLCanvasElement>(null);
  useEffect(() => {
    const datasets: any[] = [];
    let n = 0;
    for (const [lv, poly] of p.fills) {
      datasets.push({ data: pts(poly), showLine: true, pointRadius: 0, borderWidth: 0, backgroundColor: fillColors[lv], borderColor: fillColors[lv], fill: "shape", tension: 0.2, order: -n++ });
    }
    for (const l of p.lines) {
      datasets.push({ data: pts(l), showLine: true, pointRadius: 0, borderWidth: 10, borderColor: "#000", backgroundColor: "#000", fill: false, tension: 0.15, borderJoinStyle: "round", order: -n++ });
    }
    for (const l of [...p.reds, r40Stub, r0Stub]) {
      datasets.push({ data: pts(l), showLine: true, pointRadius: 0, borderWidth: 10, borderColor: "#FF0000", backgroundColor: "#FF0000", fill: false, tension: 0, order: -n++ });
    }
    const plugin = {
      id: "decor",
      afterDatasetsDraw(c: any) {
        const ctx = c.ctx, xs = c.scales.x, ys = c.scales.y, a = c.chartArea;
        // red labels
        txt(ctx, "−40", xs.getPixelForValue(12.6), ys.getPixelForValue(7.37), { color: "#FF0000", align: "center", base: "middle", ls: 5, size: 53 });
        txt(ctx, "0", xs.getPixelForValue(7.7), ys.getPixelForValue(p.zz) + 4, { color: "#FF0000", align: "center", base: "middle", size: 53 });
        // contour labels
        for (const [t, z, ex, rot] of p.labs) {
          const x = xs.getPixelForValue(t), y = ys.getPixelForValue(z);
          ctx.save();
          ctx.translate(x, y);
          ctx.rotate((rot * Math.PI) / 180);
          txt(ctx, "10", 0, 0, { align: "center", base: "middle" });
          txt(ctx, ex, 42, -20, { align: "center", base: "middle", size: 32 });
          ctx.restore();
        }
        // frame and ticks
        ctx.save();
        ctx.fillStyle = "#000";
        for (const v of yMajor) { const y = ys.getPixelForValue(v); ctx.fillRect(a.left, y - 4.5, 15, 9); ctx.fillRect(a.right - 15, y - 4.5, 15, 9); }
        for (const v of yMinor) { const y = ys.getPixelForValue(v); ctx.fillRect(a.left, y - 2, 8, 4); ctx.fillRect(a.right - 8, y - 2, 8, 4); }
        for (const v of xMajor) { const x = xs.getPixelForValue(v); ctx.fillRect(x - 5, a.top, 10, 15); ctx.fillRect(x - 5, a.bottom - 15, 10, 15); }
        for (const v of xMinor) { const x = xs.getPixelForValue(v); ctx.fillRect(x - 2, a.top, 4, 8); ctx.fillRect(x - 2, a.bottom - 8, 4, 8); }
        ctx.strokeStyle = "#000";
        ctx.lineWidth = 10;
        ctx.strokeRect(a.left, a.top, a.right - a.left, a.bottom - a.top);
        ctx.restore();
        // annotation text
        const L = a.left, T = a.top;
        txt(ctx, p.tag, L + 11, T + 61, { ls: 3 });
        txt(ctx, p.title, L + p.dt, T + 61, { ls: 2, ws: 18 });
        const sx = L + p.ds;
        txt(ctx, "Qg Ave:", sx, T + 120, { ws: 12 });
        txt(ctx, p.qg, sx + 217, T + 120, { ls: 3 });
        txt(ctx, "g kg", sx + 352, T + 120, { ws: 16 });
        txt(ctx, "−1", sx + 470, T + 95, { size: 32 });
        txt(ctx, "Hg Ave:", sx, T + 180, { ws: 12 });
        txt(ctx, `${p.hg}*10`, sx + 217, T + 180, { ls: 3 });
        txt(ctx, p.ex, sx + 417, T + 155, { size: 32 });
        txt(ctx, "kg", sx + 464, T + 180);
        txt(ctx, "−1", sx + 524, T + 155, { size: 32 });
        // lowered-origin y label
        txt(ctx, "0", L - 19, a.bottom - 12, { align: "right", base: "middle", size: 52 });
        if (col === 0) txt(ctx, "Z/km", L - 138, T + H / 2, { align: "center", base: "middle", rot: -90, ls: 7 });
        if (row === 3) txt(ctx, "Time/min", (a.left + a.right) / 2, a.bottom + 136, { align: "center", ls: 5.5 });
      },
    };
    const chart = new Chart(ref.current as any, {
      type: "scatter",
      data: { datasets },
      plugins: [plugin],
      options: {
        animation: false, responsive: false, devicePixelRatio: 1, events: [],
        layout: { padding: { left: 0, top: PADT, right: PADR, bottom: 0 } },
        plugins: { legend: { display: false }, tooltip: { enabled: false } },
        scales: {
          x: {
            type: "linear", min: 0, max: 80, grid: { display: false, drawTicks: false }, border: { display: false },
            ticks: { stepSize: 20, padding: 31, maxRotation: 0, autoSkip: false, color: "#000", font: { family: FONT, size: 52 } },
            afterFit: (s: any) => { s.height = PADB; s.paddingLeft = s.paddingRight = s.paddingTop = s.paddingBottom = 0; },
          },
          y: {
            type: "linear", min: 0, max: 15, grid: { display: false, drawTicks: false }, border: { display: false },
            ticks: { stepSize: 2, includeBounds: false, padding: 19, autoSkip: false, labelOffset: 7, color: "#000", font: { family: FONT, size: 52 }, callback: (v: any) => (v === 0 ? "" : String(v)) },
            afterFit: (s: any) => { s.width = PADL; s.paddingLeft = s.paddingRight = s.paddingTop = s.paddingBottom = 0; },
          },
        },
      } as any,
    });
    return () => chart.destroy();
  }, []);
  return (
    <canvas ref={ref} width={PADL + W + PADR} height={PADT + H + PADB}
      style={{ position: "absolute", left: colLeft[col] - PADL, top: rowTop[row] - PADT, width: PADL + W + PADR, height: PADT + H + PADB }} />
  );
}

function ColorBar() {
  const ref = useRef<HTMLCanvasElement>(null);
  useEffect(() => {
    const plugin = {
      id: "barDecor",
      afterDatasetsDraw(c: any) {
        const ctx = c.ctx, a = c.chartArea, ys = c.scales.y;
        ctx.save();
        ctx.strokeStyle = "#000";
        ctx.lineWidth = 2;
        barLevels.forEach((_, i) => {
          const y = ys.getPixelForValue(i);
          ctx.beginPath(); ctx.moveTo(a.left, y); ctx.lineTo(a.right + 16, y); ctx.stroke();
        });
        ctx.lineWidth = 4;
        ctx.strokeRect(a.left, a.top, a.right - a.left, a.bottom - a.top);
        ctx.restore();
        txt(ctx, "g kg", 2836 - 2700, 267 - 200, { size: 60, ws: 20 });
        txt(ctx, "−1", 2976 - 2700, 237 - 200, { size: 36, ls: 2 });
      },
    };
    const chart = new Chart(ref.current as any, {
      type: "bar",
      data: {
        labels: ["qg"],
        datasets: barColors.map((col) => ({ data: [1], backgroundColor: col, borderWidth: 0, stack: "s", barPercentage: 1, categoryPercentage: 1 })),
      },
      plugins: [plugin],
      options: {
        animation: false, responsive: false, devicePixelRatio: 1, events: [],
        layout: { padding: { left: 58, top: 263, right: 0, bottom: 60 } },
        plugins: { legend: { display: false }, tooltip: { enabled: false } },
        scales: {
          x: { display: false, stacked: true },
          y: {
            position: "right", stacked: true, min: 0, max: 8, grid: { display: false, drawTicks: false }, border: { display: false },
            ticks: { stepSize: 1, padding: 68, labelOffset: 13, crossAlign: "center", autoSkip: false, color: "#000", font: { family: FONT, size: 64 }, callback: (v: any) => barLevels[v] },
            afterFit: (s: any) => { s.width = 273; s.paddingTop = s.paddingBottom = 0; },
          },
        },
      } as any,
    });
    return () => chart.destroy();
  }, []);
  return <canvas ref={ref} width={408} height={2262} style={{ position: "absolute", left: 2700, top: 200, width: 408, height: 2262 }} />;
}

export default function App() {
  return (
    <div style={{ position: "absolute", left: 0, top: 0, width: 3108, height: 2912, background: "#fff", overflow: "hidden" }}>
      {panels.map((p, i) => <Panel key={i} p={p} col={i % 3} row={Math.floor(i / 3)} />)}
      <ColorBar />
    </div>
  );
}
